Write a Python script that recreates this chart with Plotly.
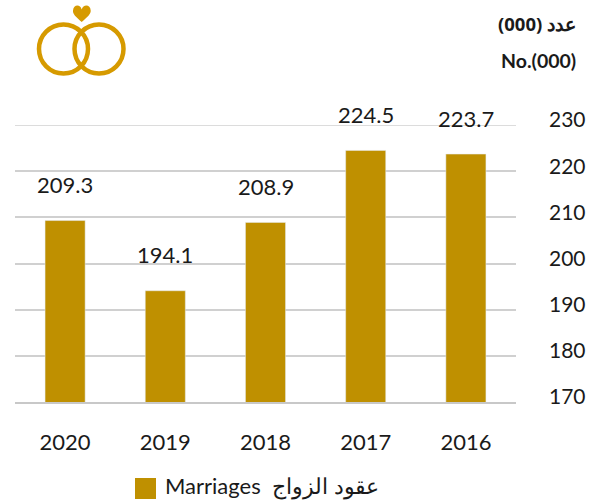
import plotly.graph_objects as go

years = ["2020", "2019", "2018", "2017", "2016"]
marriages = [209.3, 194.1, 208.9, 224.5, 223.7]
y_ticks = [170, 180, 190, 200, 210, 220, 230]
series_name = "Marriages  عقود الزواج"
unit_ar = "عدد (000)"
unit_en = "No.(000)"

W, H = 601, 502
L, R, T, B = 15, 85, 125, 100
GOLD = "#BF9000"
LOGO = "#D69A00"
INK = "#1a1a1a"
GRID = "#d0d0d0"
FONT = "Lato, 'Noto Sans', sans-serif"

def px(x): return (x - L) / (W - L - R)
def py(y): return (H - B - y) / (H - T - B)

fig = go.Figure(go.Bar(
    x=years, y=marriages, marker_color=GOLD, width=0.4,
    name=series_name, showlegend=False,
))

def circle(cx, cy, r):
    return dict(type="circle", xref="paper", yref="paper",
                x0=px(cx - r), x1=px(cx + r), y0=py(cy + r), y1=py(cy - r),
                line=dict(color=LOGO, width=4.5))

heart = dict(type="path", xref="paper", yref="paper", fillcolor=LOGO, line_width=0,
             path=" ".join([
                 f"M {px(81.7)} {py(22)}",
                 f"C {px(76)} {py(17)} {px(72.5)} {py(14)} {px(73)} {py(10.5)}",
                 f"C {px(73.5)} {py(4)} {px(80.5)} {py(4)} {px(81.7)} {py(9.5)}",
                 f"C {px(83)} {py(4)} {px(90.5)} {py(4)} {px(90.7)} {py(10.5)}",
                 f"C {px(91)} {py(14)} {px(87.5)} {py(17)} {px(81.7)} {py(22)} Z",
             ]))

swatch = dict(type="rect", xref="paper", yref="paper",
              x0=px(135), x1=px(156), y0=py(499), y1=py(478),
              fillcolor=GOLD, line_width=0)

top_grid = dict(type="line", xref="paper", yref="y", x0=0, x1=1,
                y0=y_ticks[-1], y1=y_ticks[-1], layer="below",
                line=dict(color=GRID, width=1.5))

value_labels = [
    dict(text=f"{v:.1f}", x=i, y=v, xref="x", yref="y", yshift=36, showarrow=False,
         xanchor="center", yanchor="middle", font=dict(size=22, color=INK, family=FONT))
    for i, v in enumerate(marriages)
]

fig.update_layout(
    width=W, height=H, paper_bgcolor="white", plot_bgcolor="white",
    margin=dict(l=L, r=R, t=T, b=B), bargap=0.6,
    font=dict(family=FONT, color=INK),
    shapes=[circle(63.5, 49, 24.5), circle(99, 49, 24.5), heart, swatch, top_grid],
    annotations=value_labels + [
        dict(text=f"<b>{unit_ar}</b>", xref="paper", yref="paper", x=px(578), y=py(24),
             xanchor="right", yanchor="middle", showarrow=False,
             font=dict(size=18.5, color=INK, family="'Noto Sans', sans-serif")),
        dict(text=f"<b>{unit_en}</b>", xref="paper", yref="paper", x=px(578), y=py(60),
             xanchor="right", yanchor="middle", showarrow=False,
             font=dict(size=19.5, color=INK, family=FONT)),
        dict(text=series_name, xref="paper", yref="paper", x=px(163), y=py(486),
             xanchor="left", yanchor="middle", showarrow=False,
             font=dict(size=22, color=INK, family=FONT)),
    ],
)
fig.update_xaxes(type="category", categoryorder="array", categoryarray=years,
                 range=[-0.5, 4.5],
                 showline=True, linecolor="#c8c8c8", linewidth=1.5, ticks="",
                 automargin=False,
                 tickfont=dict(size=22, color=INK), ticklabelstandoff=20)
fig.update_yaxes(range=[170, 230], tickvals=y_ticks, side="right",
                 showgrid=True, gridcolor=GRID, gridwidth=1.5, zeroline=False,
                 automargin=False,
                 tickfont=dict(size=21, color=INK), ticks="",
                 ticklabelstandoff=32, ticklabelshift=-5)

fig.write_html("out.html", config={"displayModeBar": False},
               post_script="document.body.style.margin='0';document.body.style.overflow='hidden';")
